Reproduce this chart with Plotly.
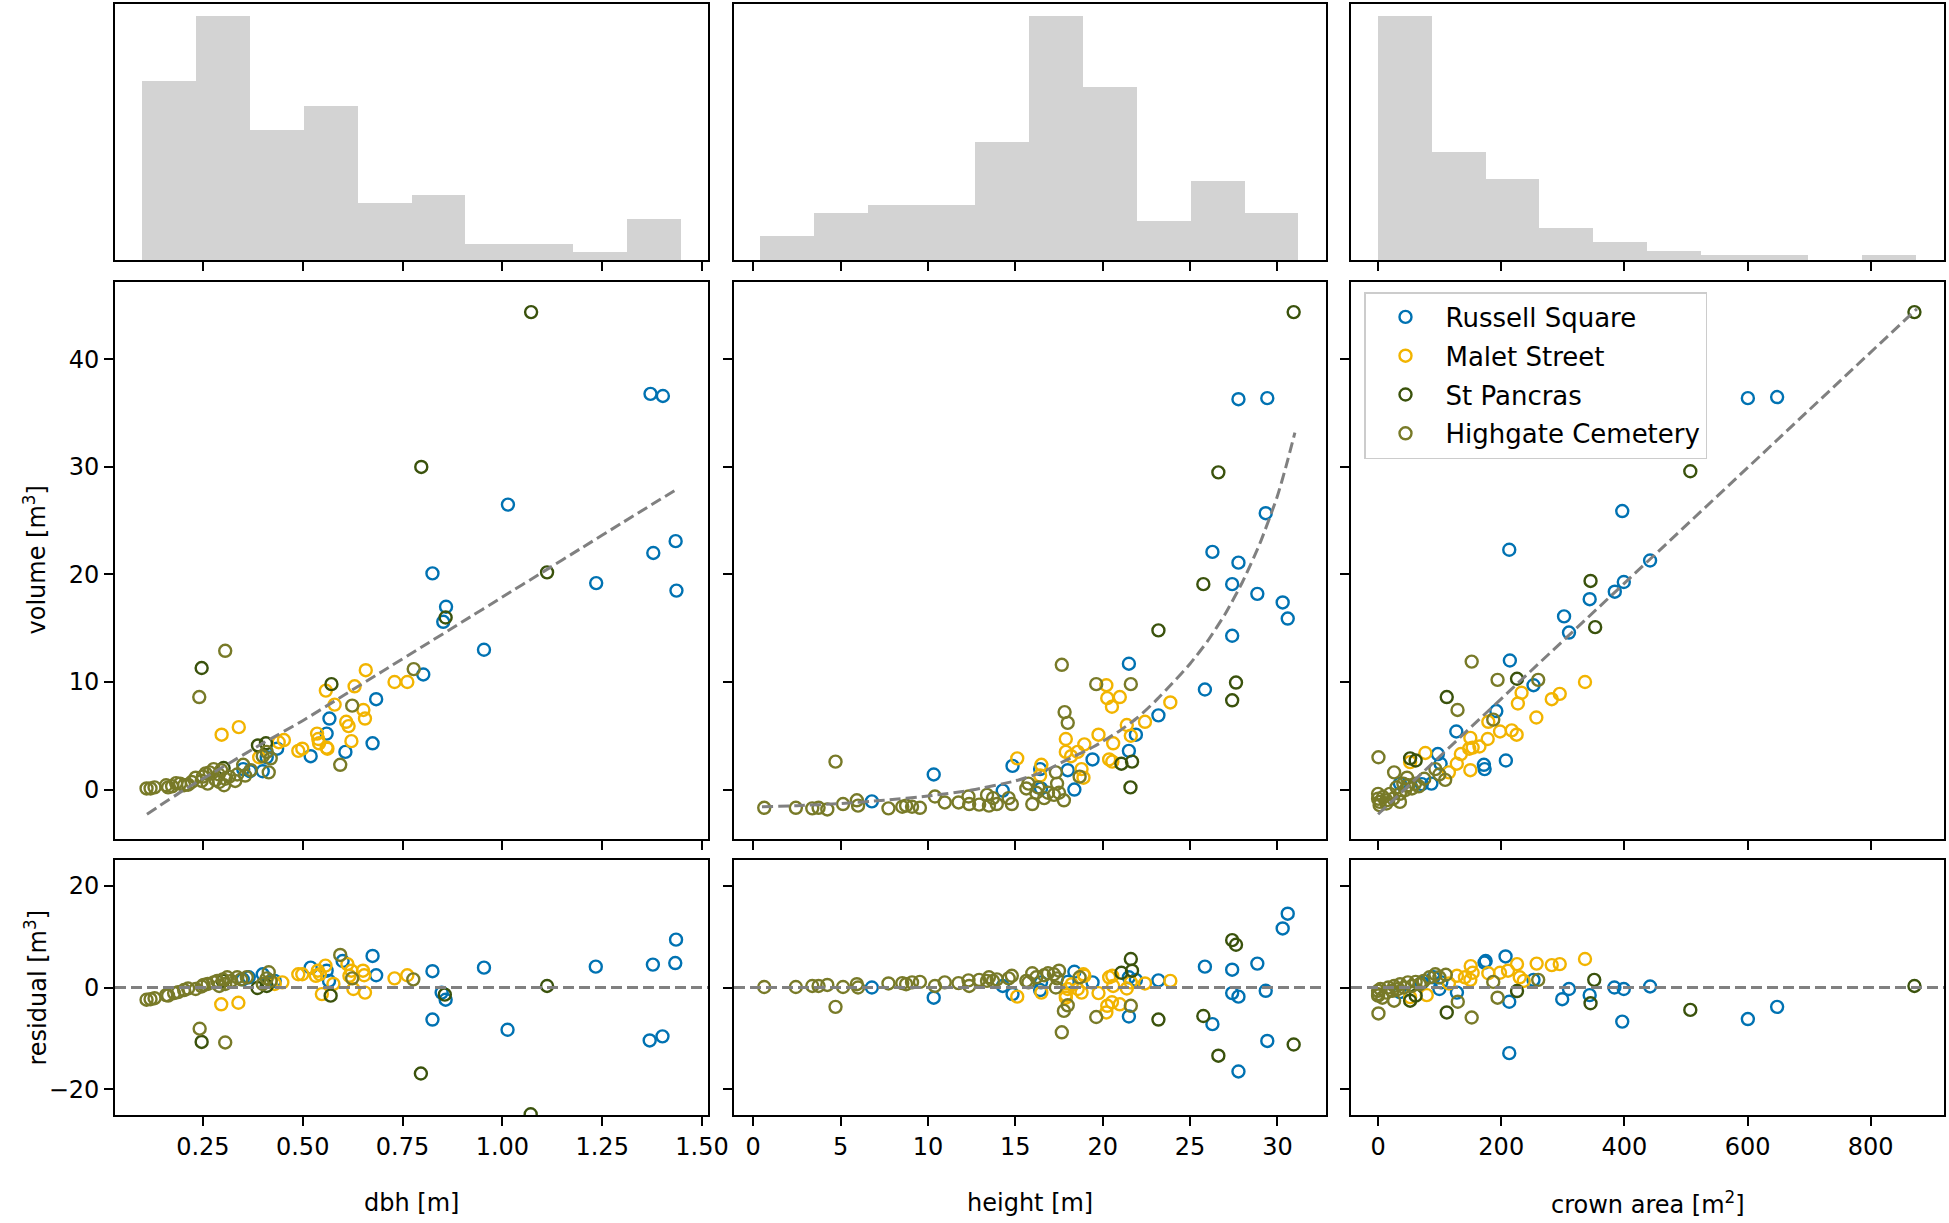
import numpy as np
import plotly.graph_objects as go

W, H = 1949, 1223
FONT = "DejaVu Sans"

sites = ["Russell Square", "Malet Street", "St Pancras", "Highgate Cemetery"]
site_colors = ["#0072B2", "#F2B400", "#3A520C", "#787A28"]

# ---------------- histogram data (counts per bin, bin range) ----------------
hist_dbh_counts = [22, 30, 16, 19, 7, 8, 2, 2, 1, 5]
hist_dbh_range = [0.098, 1.447]
hist_height_counts = [3, 6, 7, 7, 15, 31, 22, 5, 10, 6]
hist_height_range = [0.4, 31.2]
hist_crown_counts = [54, 24, 18, 7, 4, 2, 1, 1, 0, 1]
hist_crown_range = [0.0, 873.0]

# ---------------- dbh panel: volume ----------------
dbh_rs = [1.371, 1.402, 1.014, 0.825, 0.859, 0.852, 1.434, 1.378, 1.235, 1.436, 0.954, 0.802, 0.684, 0.567, 0.560, 0.607, 0.675, 0.520, 0.436, 0.400, 0.351, 0.368, 0.410]
vol_dbh_rs = [36.8, 36.6, 26.5, 20.1, 17.0, 15.6, 23.1, 22.0, 19.2, 18.5, 13.0, 10.7, 8.4, 6.6, 5.2, 3.5, 4.3, 3.1, 3.8, 1.7, 1.9, 1.7, 3.0]
dbh_ms = [0.658, 0.730, 0.762, 0.630, 0.558, 0.580, 0.652, 0.656, 0.609, 0.615, 0.622, 0.536, 0.539, 0.541, 0.560, 0.340, 0.297, 0.489, 0.499, 0.453, 0.440, 0.391, 0.562]
vol_dbh_ms = [11.1, 10.0, 10.0, 9.6, 9.2, 7.9, 7.4, 6.6, 6.3, 5.9, 4.5, 5.2, 4.7, 4.3, 3.9, 5.8, 5.1, 3.6, 3.8, 4.6, 4.4, 3.0, 3.8]
dbh_sp = [1.072, 0.797, 1.112, 0.858, 0.247, 0.572, 0.388, 0.408, 0.302]
vol_dbh_sp = [44.4, 30.0, 20.2, 16.0, 11.3, 9.8, 4.1, 4.3, 2.0]
dbh_hc = [0.109, 0.119, 0.129, 0.158, 0.163, 0.173, 0.183, 0.193, 0.203, 0.213,
          0.222, 0.232, 0.247, 0.250, 0.257, 0.262, 0.267, 0.277, 0.282, 0.290,
          0.291, 0.296, 0.303, 0.306, 0.316, 0.331, 0.336, 0.351, 0.356, 0.370,
          0.400, 0.410, 0.415, 0.420, 0.241, 0.306, 0.594, 0.624, 0.778]
vol_dbh_hc = [0.1, 0.1, 0.2, 0.4, 0.2, 0.3, 0.6, 0.55, 0.4, 0.45,
              0.7, 1.1, 0.8, 1.2, 1.5, 0.55, 1.6, 1.9, 0.9, 1.4,
              0.7, 1.8, 0.4, 1.0, 1.2, 0.8, 1.4, 2.3, 1.3, 1.8,
              3.1, 3.5, 1.6, 2.9, 8.6, 12.9, 2.3, 7.8, 11.2]
fit_dbh_x = [0.11, 0.2, 0.3, 0.4, 0.5, 0.6, 0.7, 0.8, 0.9, 1.0, 1.1, 1.2, 1.3, 1.44]
fit_dbh_y = [-2.3, -0.1, 2.1, 4.3, 6.4, 8.7, 11.0, 13.3, 15.6, 17.9, 20.2, 22.5, 24.8, 28.0]

# ---------------- dbh panel: residuals ----------------
rdbh_rs = [1.435, 1.433, 1.377, 1.234, 0.954, 0.825, 0.675, 0.684, 0.520, 0.560, 0.600, 0.566, 0.848, 0.858, 0.825, 1.013, 1.369, 1.401, 0.400, 0.350, 0.365, 0.430]
res_dbh_rs = [9.4, 4.8, 4.5, 4.1, 3.9, 3.2, 6.2, 2.4, 3.9, 3.3, 5.2, 1.3, -1.0, -2.4, -6.3, -8.3, -10.4, -9.6, 2.6, 1.6, 2.0, 1.3]
rdbh_ms = [0.296, 0.339, 0.489, 0.499, 0.533, 0.543, 0.557, 0.548, 0.577, 0.612, 0.622, 0.627, 0.651, 0.654, 0.656, 0.730, 0.762, 0.449, 0.430, 0.617, 0.538]
res_dbh_ms = [-3.3, -3.0, 2.6, 2.6, 2.3, 2.6, 4.3, -1.3, 0.7, 4.6, 3.3, -0.3, 3.3, 2.4, -1.0, 1.8, 2.4, 1.0, 0.7, 2.3, 3.3]
rdbh_sp = [1.071, 0.796, 1.112, 0.856, 0.247, 0.570, 0.387, 0.410, 0.300]
res_dbh_sp = [-24.9, -16.9, 0.3, -1.4, -10.7, -1.6, -0.1, 0.3, 1.3]
rdbh_hc = [0.242, 0.306, 0.594, 0.624, 0.777, 0.109, 0.119, 0.129, 0.158, 0.163,
           0.178, 0.188, 0.203, 0.213, 0.232, 0.247, 0.252, 0.262, 0.277, 0.286,
           0.291, 0.300, 0.306, 0.311, 0.321, 0.336, 0.346, 0.360, 0.400, 0.415,
           0.420, 0.410]
res_dbh_hc = [-8.1, -10.8, 6.4, 1.8, 1.6, -2.4, -2.3, -2.1, -1.5, -1.6,
              -1.1, -0.9, -0.5, -0.2, -0.3, 0.2, 0.5, 0.7, 1.0, 1.3,
              0.3, 1.6, 0.7, 2.0, 1.3, 2.0, 1.6, 2.0, 0.7, 3.0,
              1.3, 1.8]

# ---------------- height panel: volume ----------------
hgt_rs = [27.77, 29.42, 29.33, 26.28, 27.77, 27.41, 28.85, 30.30, 30.59, 27.41, 25.85, 21.50, 23.19, 21.90, 21.50, 19.42, 18.38, 18.00, 14.84, 10.33, 6.79, 14.28, 16.42, 16.47]
vol_hgt_rs = [36.3, 36.4, 25.7, 22.1, 21.1, 19.1, 18.2, 17.4, 15.9, 14.3, 9.3, 11.7, 6.9, 5.1, 3.6, 2.8, 0.0, 1.8, 2.2, 1.4, -1.1, -0.1, 1.9, 0.1]
hgt_ms = [23.87, 20.21, 20.26, 20.98, 20.53, 19.76, 21.38, 22.42, 21.61, 20.60, 17.89, 17.89, 18.95, 18.57, 18.19, 20.37, 20.55, 18.79, 18.90, 15.11, 16.49, 16.42]
vol_hgt_ms = [8.1, 9.7, 8.5, 8.6, 7.7, 5.1, 6.0, 6.3, 5.0, 4.3, 4.7, 3.5, 4.2, 3.5, 3.1, 2.8, 2.6, 1.9, 1.1, 2.9, 2.3, 1.3]
hgt_sp = [30.93, 26.62, 25.76, 23.19, 27.63, 27.41, 21.07, 21.68, 21.59]
vol_hgt_sp = [44.4, 29.5, 19.1, 14.8, 9.95, 8.3, 2.4, 2.6, 0.2]
hgt_hc = [0.63, 2.44, 3.38, 3.74, 4.24, 4.71, 5.14, 5.93, 6.00, 7.74,
          8.53, 8.75, 9.09, 9.54, 10.40, 10.96, 11.75, 12.32, 12.36, 12.93,
          13.38, 13.49, 13.72, 13.94, 14.62, 14.80, 15.63, 15.75, 15.97, 16.20,
          16.31, 16.65, 16.87, 17.21, 17.32, 17.39, 17.50, 17.66, 17.78, 17.82,
          18.00, 18.68, 19.63, 21.61]
vol_hgt_hc = [-1.7, -1.7, -1.75, -1.7, -1.85, 2.6, -1.35, -1.0, -1.5, -1.75,
              -1.6, -1.5, -1.6, -1.7, -0.65, -1.2, -1.2, -0.65, -1.35, -1.4,
              -0.5, -1.5, -0.8, -1.35, -0.8, -1.35, 0.1, 0.55, -1.35, -0.3,
              0.2, -0.8, -0.3, -0.5, 1.6, 0.55, -0.3, 11.6, -1.0, 7.2,
              6.2, 1.2, 9.8, 9.8]
fit_hgt_x = [0.5, 2.5, 5.0, 7.5, 10.0, 12.5, 15.0, 16.5, 18.0, 19.5, 21.0, 22.0, 23.0, 24.0,
             25.0, 26.0, 27.0, 28.0, 29.0, 30.0, 30.5, 31.0]
fit_hgt_y = [-1.6, -1.5, -1.3, -1.0, -0.6, -0.05, 0.8, 1.6, 2.8, 4.0, 5.5, 6.7, 8.2, 9.9,
             11.7, 13.8, 16.3, 19.3, 22.9, 27.3, 30.1, 33.2]

# ---------------- height panel: residuals ----------------
rhgt_rs = [6.79, 10.33, 14.28, 14.84, 16.42, 16.47, 18.00, 18.38, 19.42, 21.50, 21.50, 21.90, 23.19, 25.85, 26.28, 27.41, 27.41, 27.77, 27.77, 28.85, 29.33, 29.42, 30.30, 30.59]
res_hgt_rs = [0.0, -2.0, 0.3, -1.3, -0.5, 1.0, 1.1, 3.1, 1.0, 2.0, -5.7, 1.5, 1.4, 4.1, -7.2, 3.5, -1.1, -1.8, -16.5, 4.7, -0.65, -10.5, 11.6, 14.5]
rhgt_ms = [15.11, 16.49, 17.89, 18.00, 18.23, 18.57, 18.79, 18.95, 19.76, 20.21, 20.26, 20.53, 20.98, 20.37, 20.55, 20.60, 21.38, 21.61, 22.42, 23.87, 17.89, 18.90]
res_hgt_ms = [-1.8, -1.0, -2.0, -0.3, 0.65, -0.3, -1.0, 2.3, -1.1, -4.9, -3.6, -2.9, -3.3, 2.0, 2.3, 0.3, -0.2, 1.0, 0.8, 1.3, -1.5, 2.6]
rhgt_sp = [30.93, 26.62, 25.76, 23.19, 27.41, 27.63, 21.07, 21.61, 21.68]
res_hgt_sp = [-11.2, -13.4, -5.6, -6.3, 9.3, 8.4, 2.9, 5.6, 3.3]
rhgt_hc = [0.63, 2.44, 3.38, 3.74, 4.24, 4.71, 5.14, 5.93, 6.00, 7.74,
           8.53, 8.75, 9.09, 9.54, 10.40, 10.96, 11.75, 12.32, 12.36, 12.93,
           13.38, 13.49, 13.72, 13.94, 14.62, 14.80, 15.63, 15.75, 15.97, 16.20,
           16.65, 16.87, 17.21, 17.32, 17.39, 17.50, 17.66, 17.78, 18.00, 18.68,
           19.63, 21.61]
res_hgt_hc = [0.1, 0.1, 0.3, 0.3, 0.5, -3.8, 0.1, 0.65, 0.0, 0.8,
              0.85, 0.65, 1.0, 1.1, 0.3, 1.0, 0.85, 1.4, 0.3, 1.5,
              1.3, 2.0, 1.3, 1.6, 1.8, 2.3, 1.3, 1.0, 2.8, 2.0,
              2.4, 2.8, 2.6, 0.0, 1.8, 3.3, -8.8, -4.6, -3.5, 2.0,
              -5.8, -3.6]

# ---------------- crown area panel: volume ----------------
crown_rs = [600.5, 648, 396.5, 213, 441.7, 399, 384.4, 343.6, 302, 310, 214, 252.4, 192, 127, 97, 101.5, 171.8, 173, 207.5, 86.6, 71, 35.5]
vol_crown_rs = [36.4, 36.5, 25.9, 22.3, 21.3, 19.3, 18.4, 17.7, 16.1, 14.6, 12.0, 9.7, 7.3, 5.4, 3.3, 2.4, 2.3, 1.9, 2.7, 0.55, 0.5, 0.55]
crown_ms = [336, 295, 282, 233, 227, 257, 179, 198, 217, 225, 76.7, 52, 149.8, 134.4, 148, 153.6, 164.6, 178, 127.8, 115, 149.8]
vol_crown_ms = [10.0, 8.9, 8.4, 9.0, 8.0, 6.7, 6.3, 5.4, 5.5, 5.1, 3.4, 2.55, 4.8, 3.3, 3.8, 3.9, 4.0, 4.7, 2.4, 1.6, 1.8]
crown_sp = [871, 507, 345, 352.5, 225.6, 111.5, 52, 61]
vol_crown_sp = [44.4, 29.6, 19.4, 15.1, 10.3, 8.6, 2.9, 2.7]
crown_hc = [152, 194, 260, 129, 187, 0.6, 26, 93, 99.5, 109,
            0, 0, 2.5, 8, 13.5, 19, 24.5, 30, 35.5, 41,
            44, 49, 55, 60, 35.5, 13.5, 2.5, 66, 75, 47]
vol_crown_hc = [11.9, 10.2, 10.2, 7.4, 6.5, 3.0, 1.6, 1.9, 1.4, 0.9,
                -0.4, -0.85, -1.15, -0.7, -1.0, -0.4, -0.85, 0.2, -0.4, 0.55,
                -0.05, 0.4, 0.1, 0.55, -1.15, -1.3, -1.45, 0.3, 1.0, 1.1]
fit_crown_x = [0.0, 875.0]
fit_crown_y = [-2.3, 44.7]

# ---------------- crown area panel: residuals ----------------
rcrown_rs = [207, 174.7, 172.8, 213, 213, 299, 310, 343.6, 383.7, 399, 396.5, 441.7, 600.5, 648, 252.4, 128, 99.5, 90, 102.6, 71, 35.5]
res_crown_rs = [6.1, 5.2, 4.9, -12.9, -2.8, -2.3, -0.3, -1.5, 0.0, -0.3, -6.7, 0.2, -6.2, -3.8, 1.5, -1.0, -0.3, 2.0, 1.0, 0.9, -0.9]
rcrown_ms = [336, 295, 282, 257.5, 225.6, 230, 236.5, 211, 198, 179, 150.4, 153.6, 141, 128, 79, 115, 149.8, 52]
res_crown_ms = [5.6, 4.6, 4.4, 4.7, 4.6, 2.0, 1.3, 3.3, 2.9, 2.8, 4.2, 2.9, 2.0, 2.3, -1.5, 0.8, 1.5, -1.9]
rcrown_sp = [871, 507, 351, 345, 225.6, 111.5, 52, 61]
res_crown_sp = [0.3, -4.4, 1.5, -3.1, -0.7, -4.9, -2.6, -1.6]
rcrown_hc = [0.6, 26, 129.4, 152, 194, 260, 187, 110, 0, 0,
             0, 3.8, 7, 13.4, 16.6, 23, 26, 32.5, 35.7, 42,
             48.4, 54.8, 61, 67.6, 74, 83.5, 93, 99.5]
res_crown_hc = [-5.1, -2.6, -2.8, -5.9, -2.0, 1.5, 1.1, 2.5, -1.6, -0.65,
                -1.3, -0.3, -2.0, -1.0, 0.0, -0.65, 0.3, -0.3, 0.65, 0.0,
                1.0, 0.3, 1.1, 0.65, 1.3, 2.0, 2.6, 2.0]

residual_baseline = 0.0

# ---------------- tick labels ----------------
dbh_ticks = [0.25, 0.50, 0.75, 1.00, 1.25, 1.50]
dbh_ticktext = ["0.25", "0.50", "0.75", "1.00", "1.25", "1.50"]
height_ticks = [0, 5, 10, 15, 20, 25, 30]
crown_ticks = [0, 200, 400, 600, 800]
volume_ticks = [0, 10, 20, 30, 40]
residual_ticks = [-20, 0, 20]
residual_ticktext = ["\u221220", "0", "20"]

# ---------------- layout geometry (pixels) ----------------
col_px = [(115, 708), (734, 1326), (1351, 1944)]
row_px = [(4, 260), (282, 839), (860, 1115)]  # top, bottom
x_ranges = [[0.030, 1.515], [-1.1, 32.78], [-44.0, 919.0]]
vol_range = [-4.6, 47.2]
res_range = [-25.05, 25.05]

fig = go.Figure()


def ax_names(r, c):
    n = r * 3 + c + 1
    return ("x" if n == 1 else f"x{n}"), ("y" if n == 1 else f"y{n}"), n


# histograms
hists = [(hist_dbh_counts, hist_dbh_range), (hist_height_counts, hist_height_range),
         (hist_crown_counts, hist_crown_range)]
for c, (counts, rng) in enumerate(hists):
    xa, ya, _ = ax_names(0, c)
    edges = np.linspace(rng[0], rng[1], len(counts) + 1)
    centers = (edges[:-1] + edges[1:]) / 2
    width = edges[1] - edges[0]
    fig.add_trace(go.Bar(x=centers, y=counts, width=[width] * len(counts),
                         marker=dict(color="#d3d3d3", line=dict(width=0)),
                         xaxis=xa, yaxis=ya, showlegend=False, hoverinfo="skip"))

panel_top = [
    [(dbh_rs, vol_dbh_rs), (dbh_ms, vol_dbh_ms), (dbh_sp, vol_dbh_sp), (dbh_hc, vol_dbh_hc)],
    [(hgt_rs, vol_hgt_rs), (hgt_ms, vol_hgt_ms), (hgt_sp, vol_hgt_sp), (hgt_hc, vol_hgt_hc)],
    [(crown_rs, vol_crown_rs), (crown_ms, vol_crown_ms), (crown_sp, vol_crown_sp), (crown_hc, vol_crown_hc)],
]
panel_res = [
    [(rdbh_rs, res_dbh_rs), (rdbh_ms, res_dbh_ms), (rdbh_sp, res_dbh_sp), (rdbh_hc, res_dbh_hc)],
    [(rhgt_rs, res_hgt_rs), (rhgt_ms, res_hgt_ms), (rhgt_sp, res_hgt_sp), (rhgt_hc, res_hgt_hc)],
    [(rcrown_rs, res_crown_rs), (rcrown_ms, res_crown_ms), (rcrown_sp, res_crown_sp), (rcrown_hc, res_crown_hc)],
]
fits = [(fit_dbh_x, fit_dbh_y), (fit_hgt_x, fit_hgt_y), (fit_crown_x, fit_crown_y)]

marker_style = dict(symbol="circle-open", size=12, line=dict(width=2.4))
dash_style = dict(color="#808080", width=3, dash="11px,5px")

for c in range(3):
    xa, ya, _ = ax_names(1, c)
    for s, (xs, ys) in enumerate(panel_top[c]):
        fig.add_trace(go.Scatter(x=xs, y=ys, mode="markers", name=sites[s],
                                 marker=dict(color=site_colors[s], **marker_style),
                                 xaxis=xa, yaxis=ya, showlegend=(c == 2),
                                 legendgroup=sites[s], hoverinfo="skip"))
    fx, fy = fits[c]
    fig.add_trace(go.Scatter(x=fx, y=fy, mode="lines", line=dict(dash_style, shape="spline", smoothing=0.6),
                             xaxis=xa, yaxis=ya, showlegend=False, hoverinfo="skip"))
    xa2, ya2, n2 = ax_names(2, c)
    for s, (xs, ys) in enumerate(panel_res[c]):
        fig.add_trace(go.Scatter(x=xs, y=ys, mode="markers", name=sites[s],
                                 marker=dict(color=site_colors[s], **marker_style),
                                 xaxis=xa2, yaxis=ya2, showlegend=False,
                                 legendgroup=sites[s], hoverinfo="skip"))
    fig.add_shape(type="line", xref=f"{xa2} domain", x0=0, x1=1, yref=ya2,
                  y0=residual_baseline, y1=residual_baseline, line=dash_style, layer="above")

axis_common = dict(showline=True, linecolor="black", linewidth=1.6, mirror=True,
                   ticks="outside", ticklen=9, tickwidth=1.6, tickcolor="black",
                   showgrid=False, zeroline=False, automargin=False,
                   tickfont=dict(family=FONT, size=24, color="black"))

x_tick_cfg = [
    dict(tickvals=dbh_ticks, ticktext=dbh_ticktext),
    dict(tickvals=height_ticks),
    dict(tickvals=crown_ticks),
]

layout_axes = {}
for r in range(3):
    top, bottom = row_px[r]
    ydom = [1 - bottom / H, 1 - top / H]
    for c in range(3):
        xa, ya, n = ax_names(r, c)
        left, right = col_px[c]
        xdom = [left / W, right / W]
        xkey = "xaxis" if n == 1 else f"xaxis{n}"
        ykey = "yaxis" if n == 1 else f"yaxis{n}"
        xcfg = dict(axis_common, domain=xdom, range=x_ranges[c], anchor=ya,
                    showticklabels=(r == 2), **x_tick_cfg[c])
        if r == 0:
            ycfg = dict(axis_common, domain=ydom, anchor=xa,
                        range=[0, max(hists[c][0]) * 1.05],
                        ticks="", showticklabels=False)
        elif r == 1:
            ycfg = dict(axis_common, domain=ydom, anchor=xa, range=vol_range,
                        tickvals=volume_ticks, showticklabels=(c == 0))
        else:
            ycfg = dict(axis_common, domain=ydom, anchor=xa, range=res_range,
                        tickvals=residual_ticks, ticktext=residual_ticktext,
                        showticklabels=(c == 0))
        layout_axes[xkey] = xcfg
        layout_axes[ykey] = ycfg

title_font = dict(family=FONT, size=24, color="black")
annotations = [
    dict(text="dbh [m]", x=(col_px[0][0] + col_px[0][1]) / 2 / W, y=1 - 1203 / H),
    dict(text="height [m]", x=(col_px[1][0] + col_px[1][1]) / 2 / W, y=1 - 1203 / H),
    dict(text="crown area [m<sup>2</sup>]", x=(col_px[2][0] + col_px[2][1]) / 2 / W, y=1 - 1203 / H),
    dict(text="volume [m<sup>3</sup>]", x=35 / W, y=1 - (row_px[1][0] + row_px[1][1]) / 2 / H, textangle=-90),
    dict(text="residual [m<sup>3</sup>]", x=35 / W, y=1 - (row_px[2][0] + row_px[2][1]) / 2 / H, textangle=-90),
]
for a in annotations:
    a.update(xref="paper", yref="paper", showarrow=False, font=title_font,
             xanchor="center", yanchor="middle")

fig.update_layout(
    width=W, height=H,
    margin=dict(l=0, r=0, t=0, b=0, pad=0, autoexpand=False),
    paper_bgcolor="white", plot_bgcolor="white",
    bargap=0, barmode="overlay",
    font=dict(family=FONT, size=24, color="black"),
    showlegend=True,
    legend=dict(x=1364 / W, y=1 - 292 / H, xanchor="left", yanchor="top",
                bgcolor="rgba(255,255,255,0.8)", bordercolor="#cccccc", borderwidth=1.5,
                font=dict(family=FONT, size=26, color="black"),
                traceorder="grouped", tracegroupgap=2, itemwidth=70),
    annotations=annotations,
)
fig.update_layout(**layout_axes)

fig.write_html("out.html",
               config={"displayModeBar": False},
               post_script="document.body.style.margin='0px';document.body.style.overflow='hidden';")
